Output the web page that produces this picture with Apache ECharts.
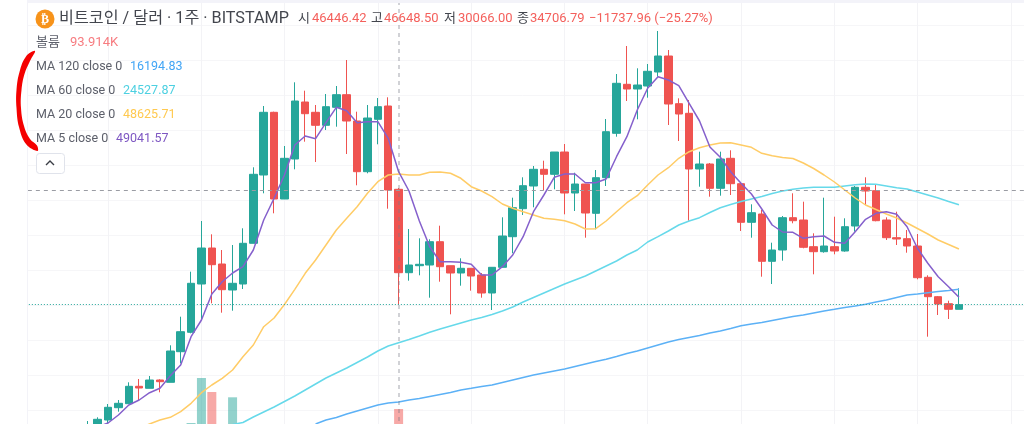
<!DOCTYPE html>
<html><head><meta charset="utf-8">
<style>html,body{margin:0;padding:0;background:#fff}#c{width:1024px;height:424px}</style>
<script src="https://cdn.jsdelivr.net/npm/echarts@6/dist/echarts.min.js"></script>
</head><body><div id="c"></div>
<script>
// Values are in chart units (the original price scale has no visible tick labels).
const open=[13,19,25,37.3,41.3,58.7,56.7,65,62.7,93.3,112.7,161,197,181,155,161,201.7,270,332.7,246,286,343,332.7,319.7,337.7,350.3,324,273.3,325.7,339,255.7,172.3,179.3,180,203.3,179.3,172,176.7,170,152,177.7,208.3,236.3,259,275.7,270.7,293,252,261,231.7,267.3,311.7,360.7,356,359,373,389,341.3,331.7,276,281,256.7,286.7,261.3,222.7,231,183.7,195,227.3,225,198.3,193.3,198.3,194,219,257.7,254.3,225,207.3,206.3,199,167.7,148.3,141.3,135.7];
const close=[19,25.7,37.7,41.7,58.7,57,65,63.3,94,113.3,161.7,197,180.3,155.3,161.7,201.7,270.7,332.7,246,286.7,344,331.3,319.7,338.3,350.3,324,273.3,327,338.3,255,172.3,180,180.7,203.3,178.3,172,176.7,169,152,177.7,209,237.3,259.3,275.7,270.7,293,252,261,232,267.3,313.3,361.7,356,360,373.7,389,341,331,276,281,256.7,286,261.3,222.7,232.3,183.7,195,227.3,224.3,197.7,193.3,199,194,218.3,257.7,254,224.3,207.3,206,199,167.3,148.3,141,135.7,140.3];
const low=[11,15,22,33.3,41.3,45,56.7,52.7,62.7,81.7,111.7,125,141.7,132.3,134.3,156,201.7,251.7,231.7,246,275.7,303.3,283,315,318.3,291,259.7,271.7,300.7,236.3,140,164.3,169.7,147.3,163.3,130.7,159.3,154.3,147.3,135,177.7,191.7,230,237.7,255,255.7,230.7,234,207.3,215.7,259,308.3,344,325.7,347.3,368.3,320,304,224.3,258.3,248.3,249.3,250,214,207.3,168.3,161,184.3,221.7,196.7,170.7,192.3,190.7,193.3,213.3,240,223.7,205,200,192.3,165.7,108.3,130,126,135.7];
const high=[24,27.7,41,45,62.7,66,69,65.7,99.7,128.3,173.3,224,210.7,195,200,216.7,277.7,339,333.3,299,362.7,354.3,340,351,359,385,333.3,340,347,347.7,257,216,206.7,205.7,219.3,179.3,186.7,176.7,172,178,227.7,247.3,267.7,279,284.3,293,301,272.3,261,275,326,371,399,376.7,381,414,395,346.7,345,293.3,282,293.3,294.7,262,240.7,235,202.3,229,251.7,243.3,211.7,247.3,228.3,226.7,259,267.7,260,227.7,233.3,215,211,169.7,149,144.3,156.7];
const volume=[0,0,0,0,0,0,0,0,0,0,22,67,53,0,47.7,0,0,0,0,0,0,0,0,0,0,0,0,0,0,0,36];
const ma5=[14,18,22,30,40,45,52.3,56.7,69.3,80,108.3,125,151,163.3,172,178.3,195,225,246.7,270,300,309,306.3,322.3,337.7,334.3,322.3,323.3,323.3,306.7,273.3,254,224,198.3,183.3,183.3,182.7,180.7,170,170,178.3,190,208.3,233.3,250,267.7,271,271,262.3,262.3,266,288.3,308.3,335,356.7,368.3,365,359.3,341.7,324,298,287.7,273.3,261.7,251,236,220,213,212.7,206.7,208.3,209,202.7,201.7,213.3,225.7,231.7,233.3,230.7,218.3,196.7,181.7,168.3,158.3,147.7];
const ma20=[null,null,null,null,null,17,21,25,27.7,33.3,41.7,52.3,60,66.7,75,88.3,100,118.3,127,140.5,155.7,171.7,185,200,215,226.7,238.3,251.7,263.3,270,271,270,270,272.7,273,271.7,266.7,258.3,254,248.3,241,236.7,233.3,230,226.7,225.7,224.3,221,216,216.3,224,233.3,242.3,249.3,260,270,277.3,286.7,293.3,297.3,300,302,302.3,300,297.7,291.7,289.3,287.5,286.5,282,276.5,270,263,255,247,240,235.5,231,227,222,216.5,211,205,200.5,196];
const ma60=[null,null,null,null,null,null,null,null,null,null,null,null,null,null,20.5,22.5,28,33,38,43.5,49,55,61,67,72,77,82.5,88,94,99,102.3,105.5,109,112.7,116,119,122,125,127.5,130.5,134,138,143,147.5,152,156.5,161,165,169,174,179,184,190,195,203,208.3,214,220,224,227.3,232.5,237.3,240.5,243.5,246,248.5,251.5,254,255.7,257,257.7,257.7,257.7,259,260.3,261,260.7,259,257.3,256,253,250,247,243.5,240.3];
const ma120=[null,null,null,null,null,null,null,null,null,null,null,null,null,null,null,null,null,null,null,null,null,null,21,25,27.5,31,34,37,40,42,43,45,46.5,48.5,50.5,52.5,55,56.7,58.5,60,62.5,65,67.5,70,72,74,76,78.5,81,83.5,85.7,88.5,91.5,94,97,100,103,105.5,107.5,109.5,112,114,116.5,119.3,121,122.5,124.5,126.5,128.5,130,132,134,135.7,137.5,139,140.7,143,145,147.5,150,151,152.3,153.5,154.5,155.7];
const lastPriceLevel=140.5, crossLevel=254.5, crossIndex=30;
const timeTicks=[2,11,19,28,37,46,54,63,72,80,89];
const headerTitle='비트코인 / 달러 · 1주 · BITSTAMP';
const ohlcLabels=['시','고','저','종'];
const ohlcValues=['46446.42','46648.50','30066.00','34706.79'];
const changeText='−11737.96 (−25.27%)';
const volumeLabel='볼륨', volumeValue='93.914K';
const maLabels=['MA 120 close 0','MA 60 close 0','MA 20 close 0','MA 5 close 0'];
const maValues=['16194.83','24527.87','48625.71','49041.57'];

const UP='#26a69a', DOWN='#ef5350';
const LEAD=6, TOTAL=97;
const categories=Array.from({length:TOTAL},(_,i)=>String(i-LEAD));
const pad=(a,blank)=>Array.from({length:LEAD},()=>blank).concat(a);
const candles=pad(open.map((o,i)=>[o,close[i],low[i],high[i]]),['-','-','-','-']);
const volBars=pad(volume.map((v,i)=>({value:v||'-',itemStyle:{color:close[i]>=open[i]?'rgba(38,166,154,.5)':'rgba(239,83,80,.5)'}})),{value:'-'});
const line=(name,data,color,z)=>({name,type:'line',data:pad(data.map(v=>v===null?'-':v),'-'),symbol:'none',smooth:false,z,silent:true,lineStyle:{color,width:1.5},itemStyle:{color}});
const F='Roboto,"Noto Sans CJK KR",sans-serif';
const txt=(x,y,text,fill,size)=>({type:'text',x,y,z:100,silent:true,style:{text,fill,font:size+'px '+F,textVerticalAlign:'middle'}});
const DARK='#43464e', GREY='#5d606b', RED='#f4605c';
const maColors=['#42a5f5','#4dd0e1','#ffc94f','#7e57c2'];
const maY=[67,91,115,139], maVX=[130,123,123,116];

const graphic=[
 {type:'rect',z:90,silent:true,shape:{x:0,y:0,width:27,height:424},style:{fill:'#fff'}},
 {type:'rect',z:91,silent:true,shape:{x:27,y:0,width:1,height:424},style:{fill:'#f3f3f8'}},
 {type:'rect',z:91,silent:true,shape:{x:27,y:0,width:997,height:3},style:{fill:'#f3f3f9'}},
 {type:'circle',z:100,silent:true,shape:{cx:45,cy:19,r:9.5},style:{fill:'#f7931a'}},
 {type:'text',x:45,y:19.5,z:101,silent:true,style:{text:'₿',fill:'#fff',font:'bold 12px "DejaVu Sans"',textAlign:'center',textVerticalAlign:'middle'}},
 txt(59,19,headerTitle,DARK,16.2),
 txt(298,19,ohlcLabels[0],DARK,13),txt(312,19,ohlcValues[0],RED,13),
 txt(371,19,ohlcLabels[1],DARK,13),txt(384,19,ohlcValues[1],RED,13),
 txt(444,19,ohlcLabels[2],DARK,13),txt(458,19,ohlcValues[2],RED,13),
 txt(517,19,ohlcLabels[3],DARK,13),txt(530,19,ohlcValues[3],RED,13),
 txt(589,19,changeText,RED,13),
 txt(36,43,volumeLabel,GREY,13),txt(70,43,volumeValue,'#f77c80',13),
 ...maLabels.map((t,i)=>txt(36,maY[i],t,GREY,12.5)),
 ...maValues.map((t,i)=>txt(maVX[i],maY[i],t,maColors[i],12.5)),
 {type:'rect',z:100,silent:true,shape:{x:36.5,y:153.5,width:28,height:20,r:3},style:{fill:'#fff',stroke:'#e0e3eb',lineWidth:1}},
 {type:'polyline',z:101,silent:true,shape:{points:[[46,165],[50,161],[54,165]]},style:{stroke:'#3a3d45',fill:'none',lineWidth:1.4}},
 {type:'polygon',z:102,silent:true,shape:{smooth:0.4,points:[[35,51],[26,56.5],[19.5,72],[16.5,90],[16.5,108],[19,127],[26,144],[37.5,151],[37,145.5],[30,139],[24,126],[21,108],[21.5,90],[24.5,74],[30,61]]},style:{fill:'#f40000'}}
];

const chart=echarts.init(document.getElementById('c'),null,{renderer:'canvas'});
chart.setOption({
 animation:false,
 grid:{left:19.85,right:-2.4,top:-10,bottom:-21,outerBoundsMode:'none'},
 graphic,
 xAxis:{type:'category',data:categories,boundaryGap:true,axisLine:{show:false},axisTick:{show:false},axisLabel:{show:false},splitLine:{show:false}},
 yAxis:{type:'value',min:0,max:455,interval:35,axisLine:{show:false},axisTick:{show:false},axisLabel:{show:false},splitLine:{show:true,lineStyle:{color:'#f6f6f8',width:1}}},
 series:[
  {name:'grid',type:'line',data:[],z:1,silent:true,markLine:{silent:true,symbol:'none',z:1,label:{show:false},animation:false,lineStyle:{color:'#f3f3f6',type:'solid',width:1},data:timeTicks.map(i=>({xAxis:i+LEAD}))}},
  {name:'볼륨',type:'bar',data:volBars,barWidth:9,z:2,silent:true},
  {name:'candles',type:'candlestick',data:candles,barWidth:8,z:3,silent:true,itemStyle:{color:UP,color0:DOWN,borderColor:UP,borderColor0:DOWN,borderWidth:1}},
  line('MA 120',ma120,'#5cb1f6',4),
  line('MA 60',ma60,'#66d9ea',4),
  line('MA 20',ma20,'#ffcc66',4),
  line('MA 5',ma5,'#8560cc',5),
  {name:'cross',type:'line',data:[],z:6,silent:true,markLine:{silent:true,symbol:'none',z:6,label:{show:false},animation:false,data:[
    {yAxis:crossLevel,lineStyle:{color:'#9a9ca3',type:[4,4],width:1}},
    {yAxis:lastPriceLevel,lineStyle:{color:'#26a69a',type:[1,2],width:1}},
    {xAxis:crossIndex+LEAD,lineStyle:{color:'rgba(120,123,134,.45)',type:[4,4],width:1.5}}
  ]}}
 ]
});
</script></body></html>
